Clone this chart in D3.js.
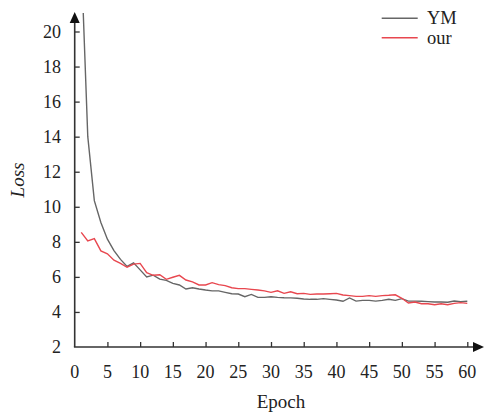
<!DOCTYPE html>
<html>
<head>
<meta charset="utf-8">
<script src="https://cdn.jsdelivr.net/npm/d3@7.9.0/dist/d3.min.js"></script>
<style>
  body { margin: 0; background: #fff; }
</style>
</head>
<body>
<svg id="chart" width="486" height="417"></svg>
<script>
const epochs = d3.range(1, 61);

const ymLoss = [
  24.2, 14.0, 10.35, 9.1, 8.15, 7.5, 7.0, 6.6, 6.8, 6.4,
  6.0, 6.1, 5.87, 5.8, 5.63, 5.54, 5.31, 5.38, 5.31, 5.25,
  5.2, 5.2, 5.12, 5.04, 5.02, 4.87, 5.0, 4.83, 4.83, 4.87,
  4.83, 4.81, 4.8, 4.78, 4.74, 4.72, 4.72, 4.76, 4.72, 4.68,
  4.61, 4.8, 4.62, 4.66, 4.66, 4.62, 4.66, 4.72, 4.66, 4.76,
  4.62, 4.62, 4.61, 4.59, 4.57, 4.57, 4.55, 4.62, 4.59, 4.61
];

const ourLoss = [
  8.54, 8.05, 8.18, 7.48, 7.32, 6.95, 6.77, 6.55, 6.73, 6.77,
  6.24, 6.09, 6.12, 5.86, 5.98, 6.09, 5.82, 5.72, 5.54, 5.54,
  5.67, 5.56, 5.5, 5.38, 5.33, 5.33, 5.29, 5.25, 5.2, 5.12,
  5.21, 5.06, 5.15, 5.04, 5.06, 5.0, 5.02, 5.02, 5.04, 5.06,
  4.97, 4.93, 4.89, 4.89, 4.93, 4.89, 4.93, 4.95, 4.98, 4.78,
  4.51, 4.57, 4.47, 4.47, 4.41, 4.47, 4.41, 4.49, 4.53, 4.49
];

const xTicks = d3.range(0, 61, 5);
const yTicks = d3.range(2, 21, 2);

const series = [
  { name: 'YM', values: ymLoss, color: '#666666' },
  { name: 'our', values: ourLoss, color: '#e8474f' }
];

const svg = d3.select('#chart')
  .attr('font-family', '"Liberation Serif", "DejaVu Serif", serif');

// plot box in pixels
const plotLeft = 74.7, plotRight = 467.3, plotBottom = 347, plotTop = 31.5;

const x = d3.scaleLinear().domain([0, 60]).range([plotLeft, plotRight]);
const y = d3.scaleLinear().domain([2, 20]).range([plotBottom, plotTop]);

const axisColor = '#333';
const textColor = '#222';

svg.append('defs').append('clipPath').attr('id', 'clip')
  .append('rect')
  .attr('x', plotLeft).attr('y', y(21.05))
  .attr('width', plotRight - plotLeft + 10).attr('height', plotBottom - y(21.05));

// lines
let line = d3.line()
  .x((d, i) => x(epochs[i]))
  .y((d) => y(d));

series.forEach((s) => {
  svg.append('path')
    .attr('d', line(s.values))
    .attr('fill', 'none')
    .attr('stroke', s.color)
    .attr('stroke-width', 1.4)
    .attr('clip-path', 'url(#clip)');
});

// y axis
let yAxis = d3.axisRight(y).tickValues(yTicks.slice(1)).tickSize(5).tickFormat('');
let gy = svg.append('g').attr('transform', `translate(${plotLeft},0)`).call(yAxis);
gy.select('.domain').remove();
gy.selectAll('line').attr('stroke', axisColor).attr('stroke-width', 1.3);

svg.append('line')
  .attr('x1', plotLeft).attr('x2', plotLeft)
  .attr('y1', plotBottom).attr('y2', 22)
  .attr('stroke', axisColor).attr('stroke-width', 1.6);
svg.append('path')
  .attr('d', `M${plotLeft - 5},${23} L${plotLeft},${12} L${plotLeft + 5},${23} Z`)
  .attr('fill', '#111');

yTicks.forEach((t) => {
  svg.append('text')
    .attr('x', 61).attr('y', y(t) + 6)
    .attr('text-anchor', 'end')
    .attr('font-size', 18)
    .attr('fill', textColor)
    .text(t);
});

// x axis
let xAxis = d3.axisTop(x).tickValues(xTicks.slice(1)).tickSize(5).tickFormat('');
let gx = svg.append('g').attr('transform', `translate(0,${plotBottom})`).call(xAxis);
gx.select('.domain').remove();
gx.selectAll('line').attr('stroke', axisColor).attr('stroke-width', 1.3);

svg.append('line')
  .attr('x1', plotLeft - 0.8).attr('x2', 474)
  .attr('y1', plotBottom).attr('y2', plotBottom)
  .attr('stroke', axisColor).attr('stroke-width', 1.6);
svg.append('path')
  .attr('d', `M${473},${plotBottom - 5} L${484},${plotBottom} L${473},${plotBottom + 5} Z`)
  .attr('fill', '#111');

xTicks.forEach((t) => {
  svg.append('text')
    .attr('x', x(t)).attr('y', 378)
    .attr('text-anchor', 'middle')
    .attr('font-size', 18)
    .attr('fill', textColor)
    .text(t);
});

// axis titles
svg.append('text')
  .attr('x', 281).attr('y', 408)
  .attr('text-anchor', 'middle')
  .attr('font-size', 19)
  .attr('fill', textColor)
  .text('Epoch');

svg.append('text')
  .attr('transform', 'translate(24,180) rotate(-90)')
  .attr('text-anchor', 'middle')
  .attr('font-size', 19)
  .attr('font-style', 'italic')
  .attr('fill', textColor)
  .text('Loss');

// legend
series.forEach((s, i) => {
  let ly = 18.3 + i * 19.4;
  svg.append('line')
    .attr('x1', 381.7).attr('x2', 417.7)
    .attr('y1', ly).attr('y2', ly)
    .attr('stroke', s.color).attr('stroke-width', 1.4);
  svg.append('text')
    .attr('x', 427).attr('y', ly + 6)
    .attr('font-size', 18.5)
    .attr('fill', textColor)
    .text(s.name);
});
</script>
</body>
</html>
